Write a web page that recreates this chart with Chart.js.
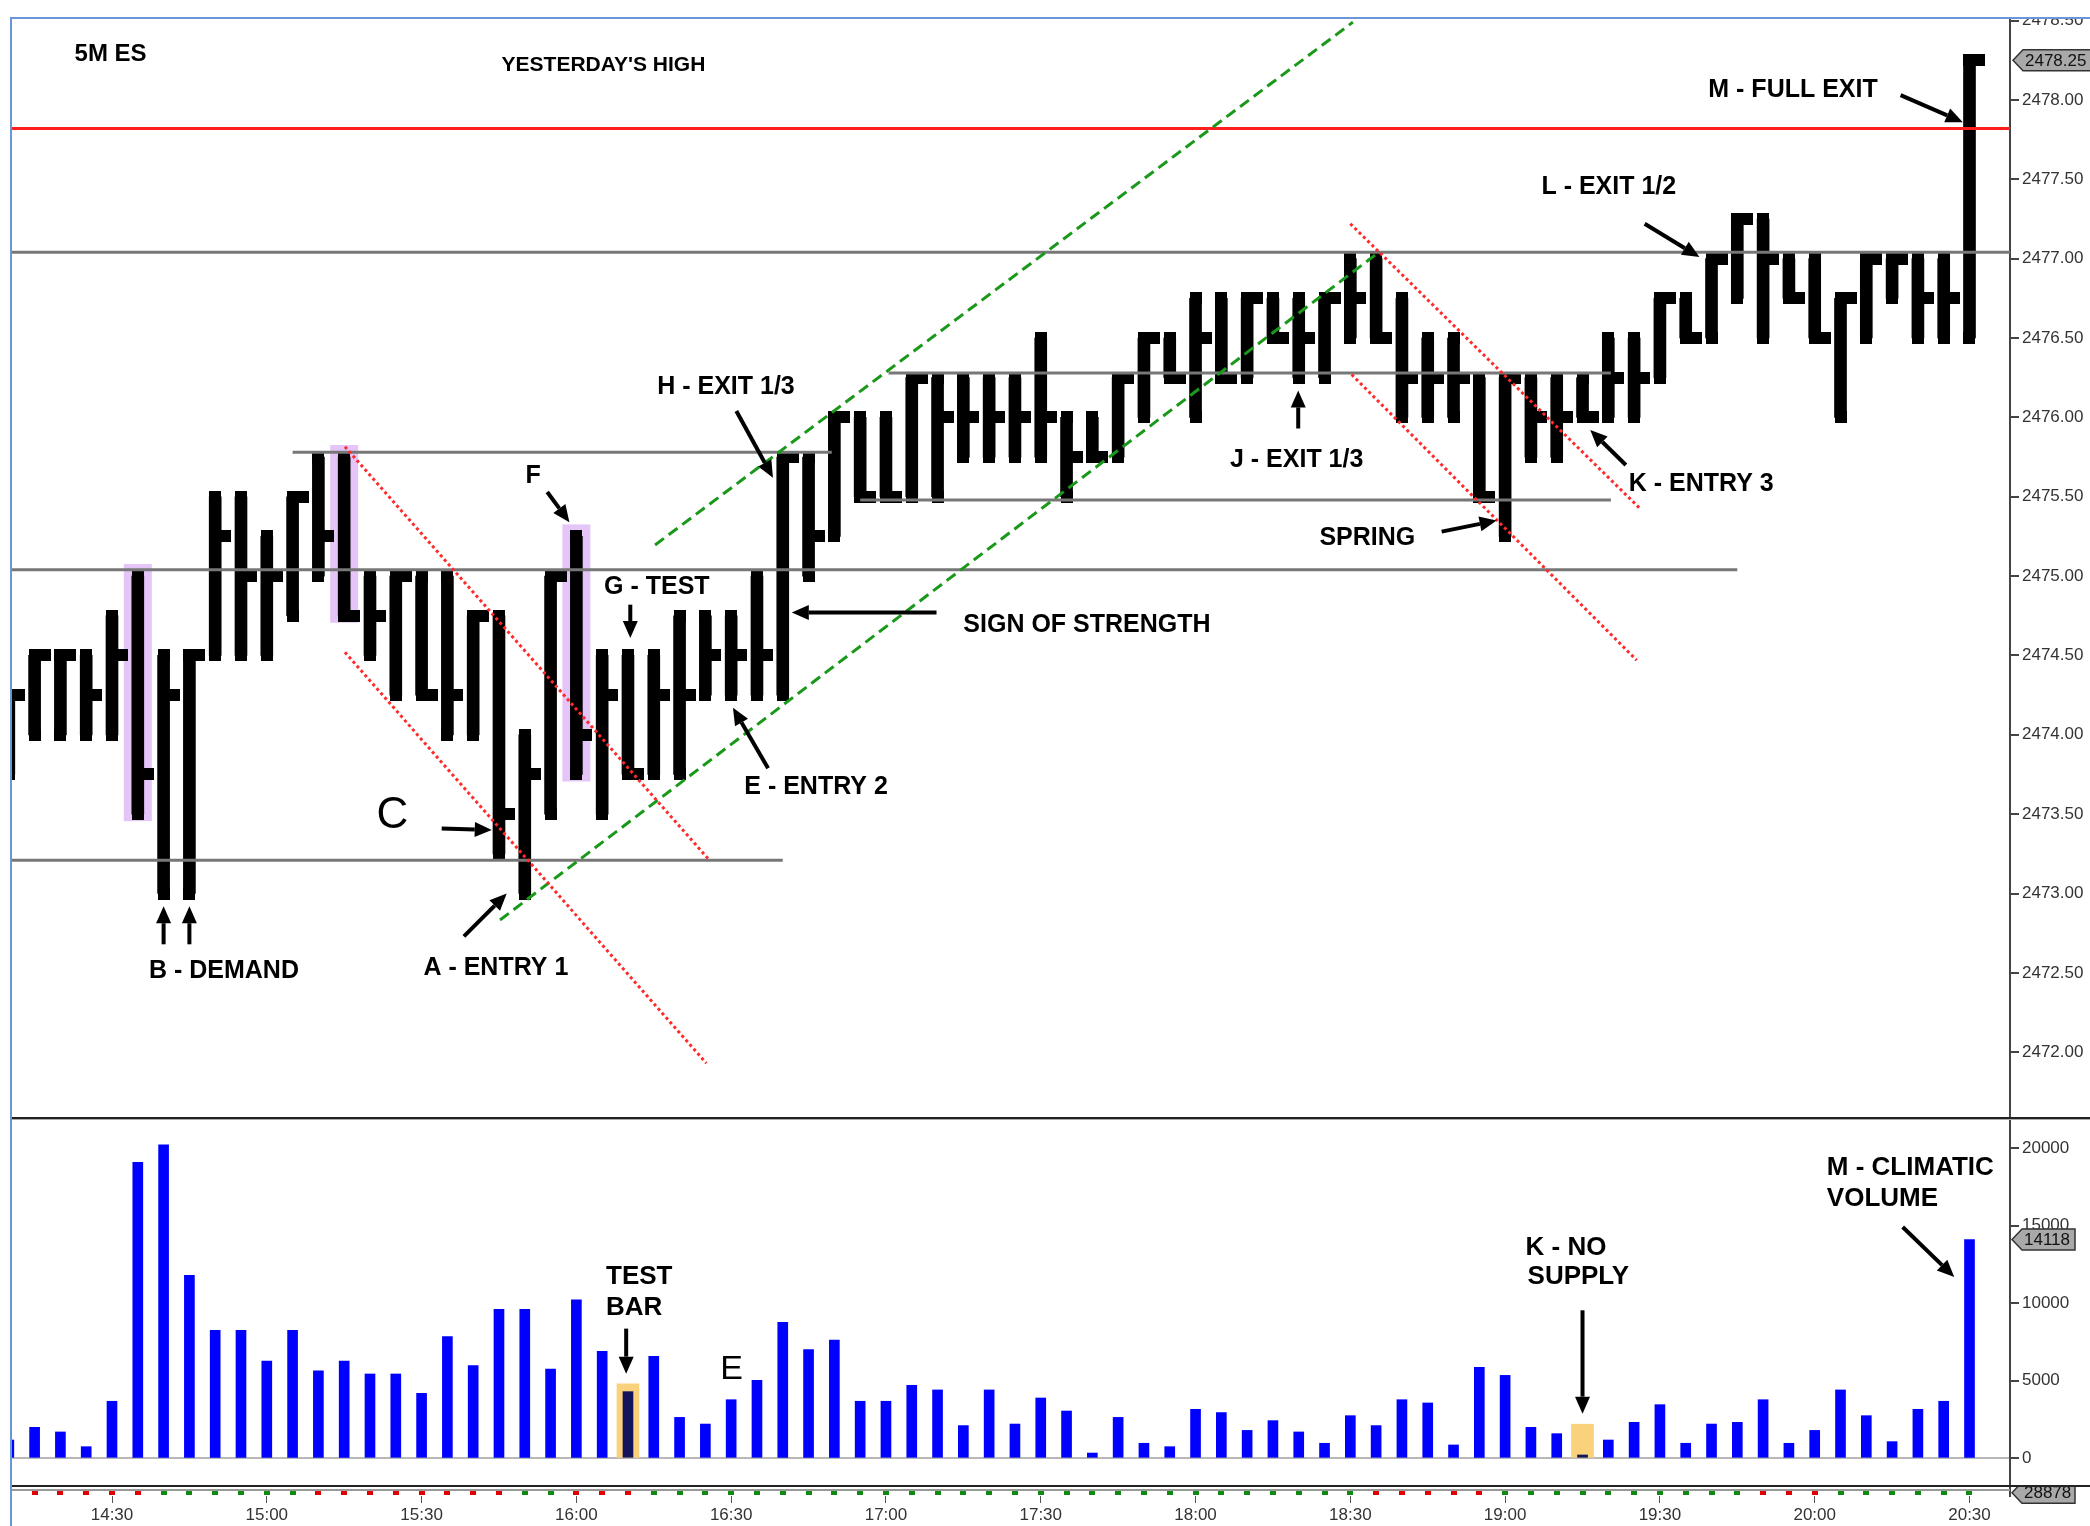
<!DOCTYPE html>
<html>
<head>
<meta charset="utf-8">
<script src="https://cdn.jsdelivr.net/npm/chart.js@4.4.0/dist/chart.umd.min.js"></script>
<style>
  html, body { margin: 0; padding: 0; background: #fff; width: 2090px; height: 1526px; overflow: hidden; }
  #wrap { position: relative; width: 2090px; height: 1526px; }
  canvas { position: absolute; left: 0; }
  .ln { position: absolute; }
</style>
</head>
<body>
<div id="wrap">
  <canvas id="price" style="top:19px" width="2090" height="1099"></canvas>
  <canvas id="vol" style="top:1119px" width="2090" height="367"></canvas>
  <canvas id="ind" style="top:1486px" width="2090" height="40"></canvas>
  <div class="ln" style="left:10px;top:17px;width:2080px;height:2px;background:#6b96d6"></div>
  <div class="ln" style="left:10px;top:17px;width:2px;height:1509px;background:#6b96d6"></div>
  <div class="ln" style="left:12px;top:1117px;width:2078px;height:2px;background:#222"></div>
  <div class="ln" style="left:12px;top:1119px;width:2078px;height:1px;background:#aaa"></div>
  <div class="ln" style="left:12px;top:1485px;width:2078px;height:2px;background:#222"></div>
  <div class="ln" style="left:12px;top:1489px;width:1998px;height:2px;background:#999"></div>
</div>
<script>
// 5 minute ES bars, 14:10 .. 20:30 (high / low / close)
var highs = [2474.25, 2474.5, 2474.5, 2474.5, 2474.75, 2475, 2474.5, 2474.5, 2475.5, 2475.5,
  2475.25, 2475.5, 2475.75, 2475.75, 2475, 2475, 2475, 2475, 2474.75, 2474.75,
  2474, 2475, 2475.25, 2474.5, 2474.5, 2474.5, 2474.75, 2474.75, 2474.75, 2475,
  2475.75, 2475.75, 2476, 2476, 2476, 2476.25, 2476.25, 2476.25, 2476.25, 2476.25,
  2476.5, 2476, 2476, 2476.25, 2476.5, 2476.5, 2476.75, 2476.75, 2476.75, 2476.75,
  2476.75, 2476.75, 2477, 2477, 2476.75, 2476.5, 2476.5, 2476.25, 2476.25, 2476.25,
  2476.25, 2476.25, 2476.5, 2476.5, 2476.75, 2476.75, 2477, 2477.25, 2477.25, 2477,
  2477, 2476.75, 2477, 2477, 2477, 2477, 2478.25];
var lows = [2473.75, 2474, 2474, 2474, 2474, 2473.5, 2473, 2473, 2474.5, 2474.5,
  2474.5, 2474.75, 2475, 2474.75, 2474.5, 2474.25, 2474.25, 2474, 2474, 2473.25,
  2473, 2473.5, 2473.75, 2473.5, 2473.75, 2473.75, 2473.75, 2474.25, 2474.25, 2474.25,
  2474.25, 2475, 2475.25, 2475.5, 2475.5, 2475.5, 2475.5, 2475.75, 2475.75, 2475.75,
  2475.75, 2475.5, 2475.75, 2475.75, 2476, 2476.25, 2476, 2476.25, 2476.25, 2476.5,
  2476.25, 2476.25, 2476.5, 2476.5, 2476, 2476, 2476, 2475.5, 2475.25, 2475.75,
  2475.75, 2476, 2476, 2476, 2476.25, 2476.5, 2476.5, 2476.75, 2476.5, 2476.75,
  2476.5, 2476, 2476.5, 2476.75, 2476.5, 2476.5, 2476.5];
var closes = [2474.25, 2474.5, 2474.5, 2474.25, 2474.5, 2473.75, 2474.25, 2474.5, 2475.25, 2475,
  2475, 2475.5, 2475.25, 2474.75, 2474.75, 2475, 2474.25, 2474.25, 2474.75, 2473.5,
  2473.75, 2475, 2474, 2474.25, 2473.75, 2474.25, 2474.25, 2474.5, 2474.5, 2474.5,
  2475.75, 2475.25, 2476, 2475.5, 2475.5, 2476.25, 2476, 2476, 2476, 2476,
  2476, 2475.75, 2475.75, 2476.25, 2476.5, 2476.25, 2476.5, 2476.25, 2476.75, 2476.5,
  2476.5, 2476.75, 2476.75, 2476.5, 2476.25, 2476.25, 2476.25, 2475.5, 2476.25, 2476,
  2476, 2476, 2476.25, 2476.25, 2476.75, 2476.5, 2477, 2477.25, 2477, 2476.75,
  2476.5, 2476.75, 2477, 2477, 2476.75, 2476.75, 2478.25];
var volumes = [1180, 2000, 1700, 750, 3680, 19090, 20230, 11800, 8260, 8260,
  6280, 8260, 5650, 6280, 5440, 5440, 4190, 7850, 5980, 9610,
  9610, 5760, 10230, 6900, 4300, 6580, 2640, 2210, 3780, 5030,
  8770, 7010, 7630, 3680, 3680, 4710, 4410, 2110, 4410, 2210,
  3890, 3050, 340, 2640, 970, 750, 3160, 2950, 1800, 2430,
  1700, 970, 2750, 2110, 3780, 3570, 860, 5870, 5350, 2000,
  1590, 215, 1180, 2320, 3460, 970, 2210, 2320, 3780, 970,
  1800, 4410, 2750, 1075, 3160, 3680, 14118];
// up / down dots in the strip under the volume panel
var trendDir = [-1, -1, -1, -1, -1, -1, 1, 1, 1, 1,
  1, 1, -1, -1, -1, -1, -1, -1, -1, -1,
  1, 1, -1, -1, -1, 1, 1, 1, 1, 1,
  1, 1, 1, 1, 1, 1, 1, 1, 1, 1,
  1, 1, 1, 1, 1, 1, 1, 1, 1, 1,
  1, 1, 1, -1, -1, -1, -1, -1, 1, 1,
  1, 1, 1, 1, 1, 1, 1, 1, -1, -1,
  -1, 1, 1, 1, 1, 1, 1];
var timeTickIdx = [4, 10, 16, 22, 28, 34, 40, 46, 52, 58, 64, 70, 76];
var timeTicks = ['14:30', '15:00', '15:30', '16:00', '16:30', '17:00', '17:30',
  '18:00', '18:30', '19:00', '19:30', '20:00', '20:30'];
var priceTicks = [2472, 2472.5, 2473, 2473.5, 2474, 2474.5, 2475, 2475.5, 2476, 2476.5,
  2477, 2477.5, 2478, 2478.5];
var volTicks = [0, 5000, 10000, 15000, 20000];
var highlightBars = [5, 13, 22];
var volHighlightIdx = [24, 61];
var volHighlightTop = [4800, 2200];
var stripValue = '28878';

// drawn annotations (x in bar index, y in price / volume)
var levelLines = [
  { y: 2477.82, x1: null, x2: null, color: '#ff1e1e' },
  { y: 2477.04, x1: null, x2: null, color: '#777' },
  { y: 2475.78, x1: 11.0, x2: 31.9, color: '#777' },
  { y: 2475.04, x1: null, x2: 67.0, color: '#777' },
  { y: 2473.21, x1: null, x2: 30.0, color: '#777' },
  { y: 2476.28, x1: 34.1, x2: 62.1, color: '#777' },
  { y: 2475.48, x1: 33.0, x2: 62.1, color: '#777' }
];
var channelLines = [
  { p: [25.05, 2475.196, 52.1, 2478.49], kind: 'green' },
  { p: [19.04, 2472.833, 53.1, 2477.04], kind: 'green' },
  { p: [13.03, 2475.815, 27.1, 2473.22], kind: 'red' },
  { p: [13.03, 2474.52, 27.04, 2471.93], kind: 'red' },
  { p: [52.0, 2477.22, 63.2, 2475.43], kind: 'red' },
  { p: [52.05, 2476.27, 63.1, 2474.47], kind: 'red' }
];
var priceNotes = [
  { t: '5M ES', x: 2.55, y: 2478.29, size: 24, align: 'left' },
  { t: "YESTERDAY'S HIGH", x: 23.05, y: 2478.22, size: 21 },
  { t: 'M - FULL EXIT', x: 69.16, y: 2478.06 },
  { t: 'L - EXIT 1/2', x: 62.02, y: 2477.45 },
  { t: 'H - EXIT 1/3', x: 27.8, y: 2476.19 },
  { t: 'F', x: 20.32, y: 2475.63 },
  { t: 'G - TEST', x: 25.12, y: 2474.93 },
  { t: 'SIGN OF STRENGTH', x: 41.79, y: 2474.69 },
  { t: 'J - EXIT 1/3', x: 49.92, y: 2475.73 },
  { t: 'K - ENTRY 3', x: 65.6, y: 2475.58 },
  { t: 'SPRING', x: 52.66, y: 2475.24 },
  { t: 'E - ENTRY 2', x: 31.29, y: 2473.67 },
  { t: 'C', x: 14.87, y: 2473.49, size: 44, weight: 'normal' },
  { t: 'B - DEMAND', x: 8.34, y: 2472.51 },
  { t: 'A - ENTRY 1', x: 18.88, y: 2472.53 }
];
var priceArrows = [
  [73.33, 2478.03, 75.74, 2477.86],
  [63.41, 2477.22, 65.53, 2477.01],
  [28.2, 2476.04, 29.62, 2475.62],
  [20.87, 2475.53, 21.73, 2475.34],
  [24.09, 2474.82, 24.09, 2474.61],
  [35.96, 2474.77, 30.35, 2474.77],
  [49.98, 2475.93, 49.98, 2476.17],
  [62.68, 2475.70, 61.3, 2475.92],
  [55.54, 2475.28, 57.67, 2475.35],
  [29.43, 2473.79, 28.07, 2474.17],
  [16.78, 2473.41, 18.72, 2473.40],
  [17.64, 2472.73, 19.3, 2473.0],
  [6, 2472.68, 6, 2472.92],
  [7, 2472.68, 7, 2472.92]
];
var volNotes = [
  { t: 'TEST', x: 23.15, y: 11697, align: 'left' },
  { t: 'BAR', x: 23.15, y: 9677, align: 'left' },
  { t: 'E', x: 28.02, y: 5740, size: 34, weight: 'normal' },
  { t: 'K - NO', x: 58.79, y: 13580, align: 'left' },
  { t: 'SUPPLY', x: 58.87, y: 11677, align: 'left' },
  { t: 'M - CLIMATIC', x: 70.47, y: 18710, align: 'left' },
  { t: 'VOLUME', x: 70.47, y: 16770, align: 'left' }
];
var volArrows = [
  [23.93, 8366, 23.93, 5462],
  [61.0, 9548, 61.0, 2882],
  [73.41, 14925, 75.41, 11700]
];

var FONT = "'Liberation Sans', Arial, sans-serif";
Chart.defaults.font.family = FONT;
var X_MIN = 0.085, X_MAX = 77.57;
var idx = highs.map(function (h, i) { return i; });

function block(w, h, color, fromX) {
  var c = document.createElement('canvas');
  c.width = w; c.height = h;
  var g = c.getContext('2d');
  g.fillStyle = color;
  g.fillRect(fromX, 0, w - fromX, h);
  return c;
}
var capImg = block(12, 12, '#000', 0);     // ends of the high-low bar
var tickImg = block(32, 12, '#000', 16);   // close tick, right side
var redDot = block(6, 4, '#e00000', 0);
var greenDot = block(6, 4, '#108a10', 0);

function arrow(ctx, x1, y1, x2, y2) {
  var a = Math.atan2(y2 - y1, x2 - x1), hl = 17, hw = 7.5;
  var bx = x2 - hl * Math.cos(a), by = y2 - hl * Math.sin(a);
  ctx.strokeStyle = '#000'; ctx.fillStyle = '#000'; ctx.lineWidth = 4; ctx.setLineDash([]);
  ctx.beginPath(); ctx.moveTo(x1, y1); ctx.lineTo(bx, by); ctx.stroke();
  ctx.beginPath(); ctx.moveTo(x2, y2);
  ctx.lineTo(bx + hw * Math.sin(a), by - hw * Math.cos(a));
  ctx.lineTo(bx - hw * Math.sin(a), by + hw * Math.cos(a));
  ctx.closePath(); ctx.fill();
}

function notes(ctx, list, x, y, defSize) {
  ctx.fillStyle = '#000';
  ctx.textBaseline = 'middle';
  list.forEach(function (n) {
    ctx.font = (n.weight || 'bold') + ' ' + (n.size || defSize) + 'px ' + FONT;
    ctx.textAlign = n.align || 'center';
    ctx.fillText(n.t, x.getPixelForValue(n.x), y.getPixelForValue(n.y));
  });
}

function valueBox(ctx, xl, yc, text, w) {
  var h = 21;
  ctx.beginPath();
  ctx.moveTo(xl, yc); ctx.lineTo(xl + 10, yc - h / 2); ctx.lineTo(xl + w, yc - h / 2);
  ctx.lineTo(xl + w, yc + h / 2); ctx.lineTo(xl + 10, yc + h / 2); ctx.closePath();
  ctx.fillStyle = '#a9a9a9'; ctx.fill();
  ctx.strokeStyle = '#333'; ctx.lineWidth = 1.5; ctx.setLineDash([]); ctx.stroke();
  ctx.fillStyle = '#111'; ctx.font = '17px ' + FONT;
  ctx.textAlign = 'left'; ctx.textBaseline = 'middle';
  ctx.fillText(text, xl + 12, yc + 1);
}

var pricePlugin = {
  id: 'priceOverlay',
  beforeDatasetsDraw: function (chart) {
    var ctx = chart.ctx, x = chart.scales.x, y = chart.scales.y;
    ctx.save();
    ctx.fillStyle = '#e5c4f7';
    highlightBars.forEach(function (i) {
      var px = x.getPixelForValue(i);
      var top = y.getPixelForValue(highs[i]) - 12;
      var bot = y.getPixelForValue(lows[i]) + 7;
      ctx.fillRect(px - 14, top, 28, bot - top);
    });
    ctx.restore();
  },
  afterDatasetsDraw: function (chart) {
    var ctx = chart.ctx, x = chart.scales.x, y = chart.scales.y, a = chart.chartArea;
    ctx.save();
    ctx.beginPath(); ctx.rect(a.left, a.top, a.right - a.left, a.bottom - a.top); ctx.clip();
    levelLines.forEach(function (l) {
      var py = y.getPixelForValue(l.y);
      ctx.strokeStyle = l.color; ctx.lineWidth = 3; ctx.setLineDash([]);
      ctx.beginPath();
      ctx.moveTo(l.x1 === null ? a.left : x.getPixelForValue(l.x1), py);
      ctx.lineTo(l.x2 === null ? a.right : x.getPixelForValue(l.x2), py);
      ctx.stroke();
    });
    channelLines.forEach(function (c) {
      if (c.kind === 'green') { ctx.strokeStyle = '#1a981a'; ctx.setLineDash([11, 6]); }
      else { ctx.strokeStyle = '#ff2a2a'; ctx.setLineDash([3, 3]); }
      ctx.lineWidth = 3;
      ctx.beginPath();
      ctx.moveTo(x.getPixelForValue(c.p[0]), y.getPixelForValue(c.p[1]));
      ctx.lineTo(x.getPixelForValue(c.p[2]), y.getPixelForValue(c.p[3]));
      ctx.stroke();
    });
    priceArrows.forEach(function (r) {
      arrow(ctx, x.getPixelForValue(r[0]), y.getPixelForValue(r[1]),
        x.getPixelForValue(r[2]), y.getPixelForValue(r[3]));
    });
    notes(ctx, priceNotes, x, y, 25);
    ctx.restore();
  },
  afterDraw: function (chart) {
    var y = chart.scales.y, last = closes.length - 1;
    chart.ctx.save();
    valueBox(chart.ctx, chart.chartArea.right + 3, y.getPixelForValue(closes[last]),
      closes[last].toFixed(2), 80);
    chart.ctx.restore();
  }
};

var volPlugin = {
  id: 'volOverlay',
  afterDatasetsDraw: function (chart) {
    var ctx = chart.ctx, x = chart.scales.x, y = chart.scales.y;
    ctx.save();
    volArrows.forEach(function (r) {
      arrow(ctx, x.getPixelForValue(r[0]), y.getPixelForValue(r[1]),
        x.getPixelForValue(r[2]), y.getPixelForValue(r[3]));
    });
    notes(ctx, volNotes, x, y, 26);
    ctx.restore();
  },
  afterDraw: function (chart) {
    var y = chart.scales.y, last = volumes.length - 1;
    chart.ctx.save();
    valueBox(chart.ctx, chart.chartArea.right + 2, y.getPixelForValue(volumes[last]),
      String(volumes[last]), 63);
    chart.ctx.restore();
  }
};

var stripPlugin = {
  id: 'stripOverlay',
  afterDraw: function (chart) {
    chart.ctx.save();
    valueBox(chart.ctx, chart.chartArea.right + 2, chart.scales.y.getPixelForValue(0), stripValue, 63);
    chart.ctx.restore();
  }
};

// the scales must not add label padding: the panels have fixed pixel bounds
function noPad(s) {
  s.paddingTop = 0; s.paddingBottom = 0; s.paddingLeft = 0; s.paddingRight = 0;
}

function rightAxis(min, max, ticks, fmt, showGrid) {
  return {
    position: 'right', min: min, max: max,
    afterBuildTicks: function (s) { s.ticks = ticks.map(function (v) { return { value: v }; }); },
    afterFit: function (s) { s.width = 80; noPad(s); },
    grid: {
      drawOnChartArea: !!showGrid,
      color: function (c) { return (c.tick && c.tick.value === 0) ? '#b8b8b8' : 'rgba(0,0,0,0)'; },
      lineWidth: 2, tickLength: 9, tickColor: '#444'
    },
    border: { color: '#444', width: 2 },
    ticks: { font: { size: 17 }, color: '#333', padding: 3, autoSkip: false, callback: fmt }
  };
}

var common = {
  responsive: false, animation: false, devicePixelRatio: 1,
  plugins: { legend: { display: false }, tooltip: { enabled: false } }
};

new Chart(document.getElementById('price'), {
  type: 'bar',
  data: {
    datasets: [
      { type: 'bar', data: idx.map(function (i) { return { x: i, y: [lows[i], highs[i]] }; }),
        backgroundColor: '#000', barThickness: 12, grouped: false, order: 3 },
      { type: 'line', showLine: false, order: 2, pointStyle: capImg, pointRadius: 6,
        data: idx.map(function (i) { return { x: i, y: highs[i] }; })
          .concat(idx.map(function (i) { return { x: i, y: lows[i] }; })) },
      { type: 'line', showLine: false, order: 1, pointStyle: tickImg, pointRadius: 6,
        data: idx.map(function (i) { return { x: i, y: closes[i] }; }) }
    ]
  },
  options: Object.assign({}, common, {
    layout: { padding: { left: 11, right: 0, top: 0, bottom: 1 }, autoPadding: false },
    scales: {
      x: { type: 'linear', min: X_MIN, max: X_MAX, display: false, offset: false },
      y: rightAxis(2471.592, 2478.51, priceTicks, function (v) { return v.toFixed(2); }, false)
    }
  }),
  plugins: [pricePlugin]
});

new Chart(document.getElementById('vol'), {
  type: 'bar',
  data: {
    datasets: [
      { type: 'bar', order: 2, grouped: false, barThickness: 22, backgroundColor: '#fbd27c',
        data: volHighlightIdx.map(function (i, k) { return { x: i, y: [0, volHighlightTop[k]] }; }) },
      { type: 'bar', order: 1, grouped: false, barThickness: 10,
        backgroundColor: idx.map(function (i) { return volHighlightIdx.indexOf(i) >= 0 ? '#14145a' : '#0000ff'; }),
        data: idx.map(function (i) { return { x: i, y: volumes[i] }; }) }
    ]
  },
  options: Object.assign({}, common, {
    layout: { padding: { left: 11, right: 0, top: 0, bottom: 0 }, autoPadding: false },
    scales: {
      x: { type: 'linear', min: X_MIN, max: X_MAX, display: false, offset: false },
      y: rightAxis(-1787, 21890, volTicks, function (v) { return String(v); }, true)
    }
  }),
  plugins: [volPlugin]
});

new Chart(document.getElementById('ind'), {
  type: 'line',
  data: {
    datasets: [
      { showLine: false, pointRadius: 3,
        pointStyle: idx.map(function (i) { return trendDir[i] > 0 ? greenDot : redDot; }),
        data: idx.map(function (i) { return { x: i, y: 0 }; }) }
    ]
  },
  options: Object.assign({}, common, {
    layout: { padding: { left: 11, right: 0, top: 0, bottom: 0 }, autoPadding: false },
    scales: {
      x: {
        type: 'linear', min: X_MIN, max: X_MAX, offset: false,
        afterBuildTicks: function (s) { s.ticks = timeTickIdx.map(function (v) { return { value: v }; }); },
        afterFit: function (s) { s.height = 30; noPad(s); },
        grid: { drawOnChartArea: false, tickLength: 7, tickColor: '#555' },
        border: { display: false },
        ticks: { font: { size: 17 }, color: '#333', padding: 2, autoSkip: false, maxRotation: 0,
          callback: function (v) { return timeTicks[timeTickIdx.indexOf(v)]; } }
      },
      y: {
        position: 'right', min: -0.5, max: 1,
        afterFit: function (s) { s.width = 80; noPad(s); },
        grid: { drawOnChartArea: false, drawTicks: false },
        border: { color: '#444', width: 2 },
        ticks: { display: false }
      }
    }
  }),
  plugins: [stripPlugin]
});
</script>
</body>
</html>
